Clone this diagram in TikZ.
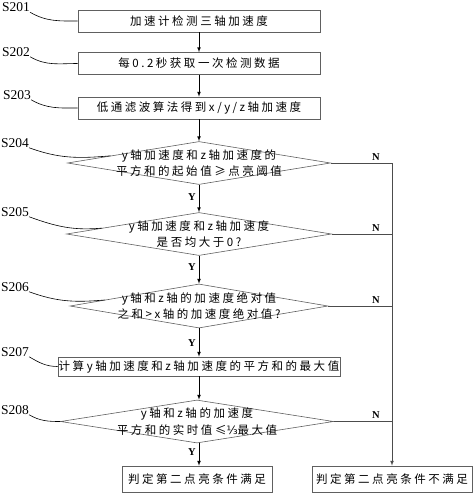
\documentclass[tikz,border=0pt]{standalone}
\usepackage{fontspec}
\setmainfont{Liberation Serif}
\newfontfamily\cjk{Noto Sans CJK SC}[LetterSpace=22]
\newfontfamily\symf{DejaVu Sans}
\usetikzlibrary{shapes.geometric,calc}

\tikzset{
  stepbox/.style={draw=gray!75!black, line width=0.6pt, inner sep=0pt, font=\cjk\fontsize{11.5}{16}\selectfont},
  decision/.style={diamond, draw=gray!75!black, line width=0.6pt, inner sep=0pt},
  dtext/.style={align=center, inner sep=0pt, font=\cjk\fontsize{11.5}{16.5}\selectfont},
  steplbl/.style={inner sep=0pt, font=\fontsize{13.5}{14}\selectfont},
  yn/.style={inner sep=0pt, font=\bfseries\fontsize{10.5}{11}\selectfont},
  flow/.style={->, >=latex, black, line width=0.7pt},
  rail/.style={gray!60!black, line width=0.7pt},
  lead/.style={black, line width=0.6pt}
}

\begin{document}
\begin{tikzpicture}[x=1pt, y=-1pt]
    \useasboundingbox (0,0) rectangle (474,493);
    % process steps
    \node[stepbox, minimum width=242pt, minimum height=22pt] (b1) at (199,21) {加速计检测三轴加速度};
    \node[stepbox, minimum width=242pt, minimum height=22pt] (b2) at (199,63.5) {每0.2秒获取一次检测数据};
    \node[stepbox, minimum width=242pt, minimum height=22pt] (b3) at (199,108) {低通滤波算法得到x/y/z轴加速度};
    \node[decision, minimum width=263pt, minimum height=43pt] (d4) at (199,163) {};
    \node[dtext] (t4) at (d4) {y轴加速度和z轴加速度的\\平方和的起始值≥点亮阈值};
    \node[decision, minimum width=265pt, minimum height=43pt] (d5) at (199,234) {};
    \node[dtext] (t5) at (d5) {y轴加速度和z轴加速度\\是否均大于0?};
    \node[decision, minimum width=258pt, minimum height=44pt] (d6) at (199,306) {};
    \node[dtext] (t6) at (d6) {y轴和z轴的加速度绝对值\\之和>x轴的加速度绝对值?};
    \node[stepbox, minimum width=282pt, minimum height=19pt] (b7) at (199,366.5) {计算y轴加速度和z轴加速度的平方和的最大值};
    \node[decision, minimum width=273pt, minimum height=43pt] (d8) at (197,421.5) {};
    \node[dtext] (t8) at (d8) {y轴和z轴的加速度\\平方和的实时值≤{\symf ⅓}最大值};
    \node[stepbox, minimum width=150pt, minimum height=26pt] (b9) at (197,479) {判定第二点亮条件满足};
    \node[stepbox, minimum width=160pt, minimum height=26pt] (b10) at (392,479) {判定第二点亮条件不满足};

    % step numbers
    \node[steplbl] (s1) at (16,7.5) {S201};
    \node[steplbl] (s2) at (16,52) {S202};
    \node[steplbl] (s3) at (17,95) {S203};
    \node[steplbl] (s4) at (15,143) {S204};
    \node[steplbl] (s5) at (15,212) {S205};
    \node[steplbl] (s6) at (15,287) {S206};
    \node[steplbl] (s7) at (15,352) {S207};
    \node[steplbl] (s8) at (15,410) {S208};
    \draw[lead] (s1.south east) to[out=-30, in=180] (b1.west);
    \draw[lead] (s2.south east) to[out=-30, in=180] (b2.west);
    \draw[lead] (s3.south east) to[out=-30, in=180] (b3.west);
    \draw[lead] (s4.south east) to[out=-20, in=185] ($(d4.west)!0.33!(d4.north)$);
    \draw[lead] (s5.south east) to[out=-20, in=185] ($(d5.west)!0.27!(d5.north)$);
    \draw[lead] (s6.south east) to[out=-20, in=185] ($(d6.west)!0.27!(d6.north)$);
    \draw[lead] (s7.south east) to[out=-30, in=180] (b7.west);
    \draw[lead] (s8.south east) to[out=-30, in=180] (d8.west);

    % main flow
    \draw[flow] (b1) -- (b2);
    \draw[flow] (b2) -- (b3);
    \draw[flow] (b3) -- (d4);
    \draw[flow] (d4) -- (d5);
    \draw[flow] (d5) -- (d6);
    \draw[flow] (d6) -- (b7);
    \draw[flow] (b7.south) -- (b7.south |- d8.north);
    \draw[flow] (b7.south |- d8.south) -- (b7.south |- b9.north);
    \node[yn] (y4) at (192,197) {Y};
    \node[yn] (y5) at (192,267) {Y};
    \node[yn] (y6) at (192,343) {Y};
    \node[yn] (y8) at (192,452) {Y};

    % N branches
    \draw[rail] (d4.east) -- (d4.east -| b10.north);
    \draw[rail] (d5.east) -- (d5.east -| b10.north);
    \draw[rail] (d6.east) -- (d6.east -| b10.north);
    \draw[rail] (d8.east) -- (d8.east -| b10.north);
    \draw[flow, draw=gray!60!black] (d4.east -| b10.north) -- (b10.north);
    \node[yn] (n4) at (376,157) {N};
    \node[yn] (n5) at (376,228) {N};
    \node[yn] (n6) at (376,300) {N};
    \node[yn] (n8) at (376,415) {N};
\end{tikzpicture}
\end{document}
